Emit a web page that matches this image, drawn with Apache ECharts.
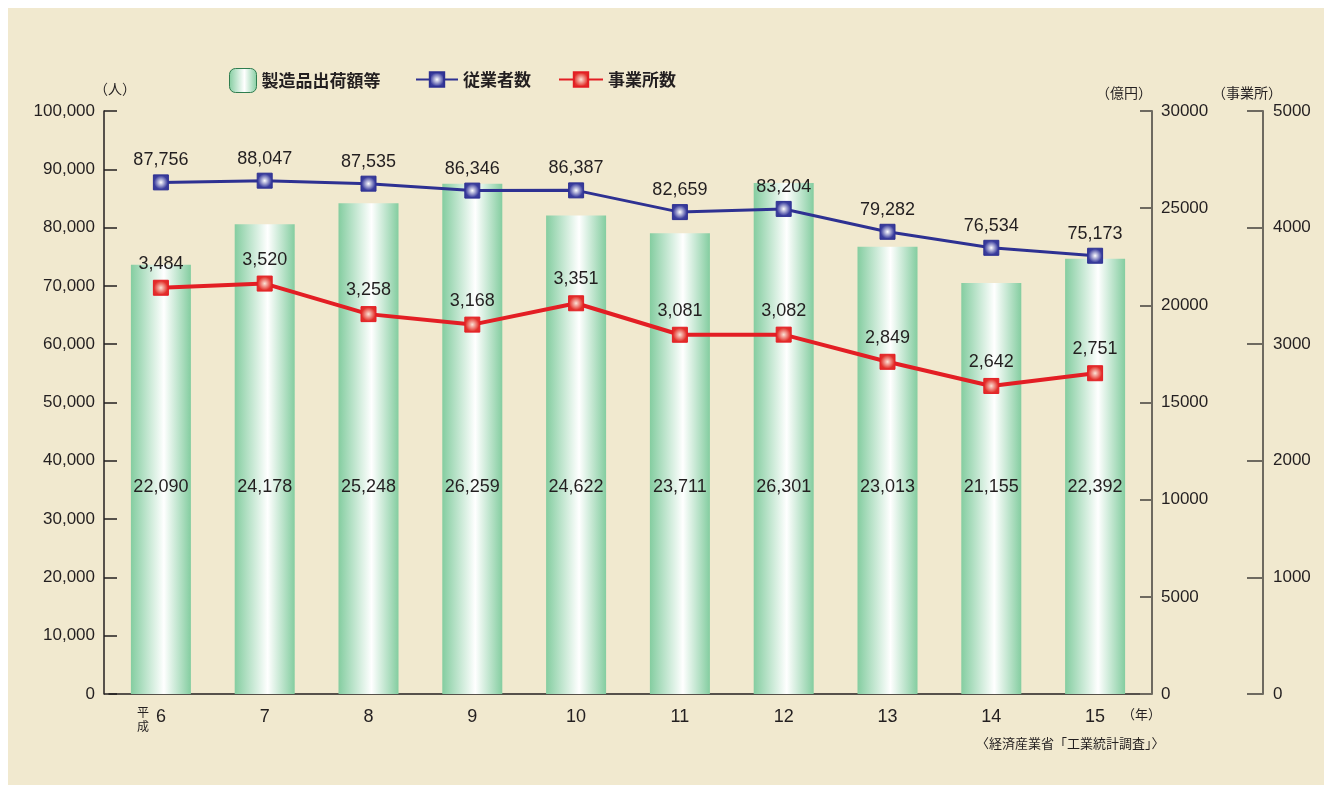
<!DOCTYPE html>
<html>
<head>
<meta charset="utf-8">
<script src="https://cdn.jsdelivr.net/npm/echarts@6/dist/echarts.min.js"></script>
<style>
html,body{margin:0;padding:0;background:#ffffff;}
#chart{position:absolute;left:8px;top:8px;width:1316px;height:777px;background:#f1e9cf;}
</style>
</head>
<body>
<div id="chart"></div>
<script>
const categories = ['6','7','8','9','10','11','12','13','14','15'];
const shipments = [22090,24178,25248,26259,24622,23711,26301,23013,21155,22392];
const employees = [87756,88047,87535,86346,86387,82659,83204,79282,76534,75173];
const establishments = [3484,3520,3258,3168,3351,3081,3082,2849,2642,2751];

const NUM_FONT = '"Liberation Sans", Arial, sans-serif';
const JP_FONT = '"Noto Sans CJK JP", sans-serif';
const TXT = '#231f20';
const fmt = v => Number(v).toLocaleString('en-US');

const barGrad = {type:'linear',x:0,y:0,x2:1,y2:0,colorStops:[
  {offset:0,color:'#84cda0'},{offset:0.55,color:'#ffffff'},{offset:1,color:'#84cda0'}]};
const blueGrad = {type:'radial',x:0.5,y:0.5,r:0.7,colorStops:[
  {offset:0,color:'#ffffff'},{offset:0.6,color:'#3b3e9e'},{offset:1,color:'#2e3192'}]};
const redGrad = {type:'radial',x:0.5,y:0.5,r:0.7,colorStops:[
  {offset:0,color:'#fbe3d6'},{offset:0.6,color:'#e3312c'},{offset:1,color:'#e31e24'}]};

const chart = echarts.init(document.getElementById('chart'));
chart.setOption({
  animation:false,
  backgroundColor:'#f1e9cf',
  grid:{left:101,right:177,top:103,bottom:91,containLabel:false,outerBoundsMode:'none'},
  legend:[
    {data:[{name:'製造品出荷額等',itemStyle:{borderColor:'#2f7d4f',borderWidth:1}}],left:216,top:55,itemWidth:27,itemHeight:24,itemGap:7,
      textStyle:{fontFamily:JP_FONT,fontSize:17,fontWeight:'bold',color:TXT}},
    {data:['従業者数'],left:402,top:58,itemWidth:42,itemHeight:18,
      textStyle:{fontFamily:JP_FONT,fontSize:17,fontWeight:'bold',color:TXT}},
    {data:['事業所数'],left:545,top:58,itemWidth:44,itemHeight:18,
      textStyle:{fontFamily:JP_FONT,fontSize:17,fontWeight:'bold',color:TXT}}
  ],
  xAxis:{type:'category',data:categories,
    axisLine:{lineStyle:{color:'#231f20',width:1.5}},axisTick:{show:false},
    axisLabel:{fontFamily:NUM_FONT,fontSize:18,color:TXT,margin:14}},
  yAxis:[
    {type:'value',min:0,max:100000,interval:10000,position:'left',offset:5,
      axisLine:{show:true,lineStyle:{color:'#231f20',width:1.5}},
      axisTick:{show:true,inside:true,length:13,lineStyle:{color:'#231f20',width:1.5}},
      splitLine:{show:false},
      axisLabel:{fontFamily:NUM_FONT,fontSize:17,color:TXT,margin:9,formatter:v=>fmt(v)}},
    {type:'value',min:0,max:30000,interval:5000,position:'right',offset:5,
      axisLine:{show:true,lineStyle:{color:'#6e6a60',width:2}},
      axisTick:{show:true,inside:true,length:12,lineStyle:{color:'#6e6a60',width:2}},
      splitLine:{show:false},
      axisLabel:{fontFamily:NUM_FONT,fontSize:17,color:TXT,margin:9,formatter:v=>String(v)}},
    {type:'value',min:0,max:5000,interval:1000,position:'right',offset:116,
      axisLine:{show:true,lineStyle:{color:'#6e6a60',width:2}},
      axisTick:{show:true,inside:true,length:16,lineStyle:{color:'#6e6a60',width:2}},
      splitLine:{show:false},
      axisLabel:{fontFamily:NUM_FONT,fontSize:17,color:TXT,margin:10,formatter:v=>String(v)}}
  ],
  series:[
    {name:'製造品出荷額等',type:'bar',yAxisIndex:1,data:shipments,barWidth:60,
      itemStyle:{color:barGrad},
      label:{show:true,position:'insideBottom',distance:198,fontFamily:NUM_FONT,fontSize:18,color:TXT,formatter:p=>fmt(p.value)}},
    {name:'従業者数',type:'line',yAxisIndex:0,data:employees,symbol:'rect',symbolSize:15,z:5,
      lineStyle:{color:'#2e3192',width:3},itemStyle:{color:blueGrad,borderColor:'#2e3192',borderWidth:1},
      label:{show:true,position:'top',distance:5,fontFamily:NUM_FONT,fontSize:18,color:TXT,formatter:p=>fmt(p.value)}},
    {name:'事業所数',type:'line',yAxisIndex:2,data:establishments,symbol:'rect',symbolSize:15,z:6,
      lineStyle:{color:'#e31e24',width:4},itemStyle:{color:redGrad,borderColor:'#e31e24',borderWidth:1},
      label:{show:true,position:'top',distance:7,fontFamily:NUM_FONT,fontSize:18,color:TXT,formatter:p=>fmt(p.value)}}
  ],
  graphic:[
    {type:'text',left:86,top:74,style:{text:'（人）',fontFamily:JP_FONT,fontSize:14,fill:TXT}},
    {type:'text',left:1088,top:78,style:{text:'（億円）',fontFamily:JP_FONT,fontSize:14,fill:TXT}},
    {type:'text',left:1204,top:78,style:{text:'（事業所）',fontFamily:JP_FONT,fontSize:14,fill:TXT}},
    {type:'text',left:129,top:697,style:{text:'平\n成',fontFamily:JP_FONT,fontSize:12,lineHeight:14,fill:TXT}},
    {type:'text',left:1114,top:700,style:{text:'（年）',fontFamily:JP_FONT,fontSize:13,fill:TXT}},
    {type:'text',left:968,top:729,style:{text:'〈経済産業省「工業統計調査」〉',fontFamily:JP_FONT,fontSize:13,fill:TXT}}
  ]
});
</script>
</body>
</html>
